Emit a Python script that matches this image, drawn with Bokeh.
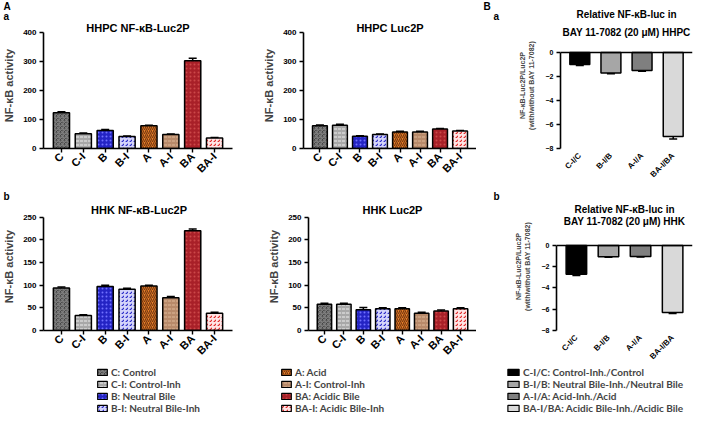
import math
from bokeh.plotting import figure
from bokeh.models import (FactorRange, Range1d, FixedTicker, ColumnDataSource, Whisker,
                          TeeHead, Label, Legend, LegendItem, Span)
from bokeh.layouts import row, column
from bokeh.embed import file_html
from bokeh.resources import INLINE

# ---------------- data ----------------
cats = ["C", "C-I", "B", "B-I", "A", "A-I", "BA", "BA-I"]
cat_names = ["C: Control", "C-I: Control-Inh", "B: Neutral Bile", "B-I: Neutral Bile-Inh",
             "A: Acid", "A-I: Control-Inh", "BA: Acidic Bile", "BA-I: Acidic Bile-Inh"]

hhpc_nfkb = [123, 51, 62, 41, 78, 48, 302, 36]
hhpc_nfkb_err = [3, 2, 3, 2, 2, 2, 8, 2]
hhpc_luc = [78, 80, 42, 48, 57, 57, 67, 60]
hhpc_luc_err = [3, 3, 2, 2, 2, 2, 2, 2]
hhk_nfkb = [94, 33, 97, 91, 98, 72, 220, 38]
hhk_nfkb_err = [2, 2, 3, 2, 2, 3, 4, 2]
hhk_luc = [58, 58, 46, 48, 48, 38, 43, 48]
hhk_luc_err = [2, 2, 5, 2, 2, 2, 2, 2]

ratio_cats = ["C-I/C", "B-I/B", "A-I/A", "BA-I/BA"]
ratio_names = ["C-I/C: Control-Inh./Control", "B-I/B: Neutral Bile-Inh./Neutral Bile",
               "A-I/A: Acid-Inh./Acid", "BA-I/BA: Acidic Bile-Inh./Acidic Bile"]
hhpc_ratio = [-1.0, -1.7, -1.5, -7.0]
hhpc_ratio_err = [0.08, 0.08, 0.06, 0.2]
hhk_ratio = [-2.7, -1.05, -1.03, -6.3]
hhk_ratio_err = [0.12, 0.06, 0.06, 0.1]

# ---------------- styles ----------------
fills = ["#2a2a2a", "#a8a8a8", "#2424c4", "#d4d4fa", "#e8802a", "#b88a6a", "#a82028", "#ffe4e4"]
hatches = ["criss_cross", "horizontal_dash", "dot", "right_diagonal_dash",
           "right_diagonal_line", "horizontal_dash", "dot", "right_diagonal_dash"]
hatch_cols = ["#808080", "#e2e2e2", "#7070ff", "#2a2ac8", "#7a3a10", "#d8b090", "#cc4848", "#e02828"]
ratio_fills = ["#000000", "#a6a6a6", "#7f7f7f", "#d9d9d9"]

AX_FONT = "Liberation Sans"
LEG_FONT = "Lato"
W = 693


def base_fig(**kw):
    return figure(output_backend="svg", toolbar_location=None, **kw)


def txt(t, x, y, size, align="left", xu="data", yu="data"):
    return Label(x=x, y=y, x_units=xu, y_units=yu, text=t, text_font=AX_FONT,
                 text_font_style="bold", text_font_size=size, text_align=align,
                 text_baseline="middle", text_color="black")


def style_axes(p, yticks, tick_fs="8px", xlab_fs="11px"):
    p.xgrid.visible = False
    p.ygrid.visible = False
    p.outline_line_color = None
    for ax in (p.xaxis[0], p.yaxis[0]):
        ax.axis_line_width = 1.6
        ax.major_tick_line_width = 1.4
        ax.major_tick_out = 4
        ax.major_tick_in = 0
        ax.minor_tick_line_color = None
        ax.major_label_text_font = AX_FONT
        ax.major_label_text_font_style = "bold"
        ax.major_label_text_color = "black"
    p.yaxis.ticker = FixedTicker(ticks=yticks)
    p.yaxis.bounds = (min(yticks), max(yticks))
    p.yaxis.major_label_text_font_size = tick_fs
    p.yaxis.major_label_standoff = 3
    p.xaxis.major_label_text_font_size = xlab_fs
    p.xaxis.major_label_orientation = math.pi / 4
    p.xaxis.major_label_standoff = 2


def strip(height, texts):
    """A blank full-width band that carries panel letters / title lines as text."""
    p = base_fig(width=W, height=height, x_range=Range1d(0, W), y_range=Range1d(0, height),
                 min_border=0, x_axis_location=None, y_axis_location=None)
    p.outline_line_color = None
    p.grid.visible = False
    for (t, x, y, size, align) in texts:
        p.add_layout(txt(t, x, height - y, size, align))
    return p


def panel_a(title, vals, errs, ytop, yticks, width, height, bl, br, bb, tick_px, title_px):
    fh = height - bb
    fw = width - bl - br
    yend = ytop + tick_px * ytop / (fh - tick_px)
    p = base_fig(x_range=FactorRange(factors=cats, range_padding=0.08),
                 y_range=Range1d(0, yend), width=width, height=height,
                 min_border_left=bl, min_border_right=br, min_border_top=0,
                 min_border_bottom=bb)
    src = ColumnDataSource(dict(cat=cats, val=vals, up=[v + e for v, e in zip(vals, errs)],
                                fill=fills, hp=hatches, hc=hatch_cols))
    p.vbar(x="cat", top="val", width=0.74, source=src, fill_color="fill",
           hatch_pattern="hp", hatch_color="hc", hatch_scale=4, hatch_weight=1.2,
           line_color="black", line_width=1.5)
    p.add_layout(Whisker(source=src, base="cat", lower="val", upper="up", dimension="height",
                         line_width=1.5, line_color="black",
                         upper_head=TeeHead(size=8, line_width=1.5, line_color="black"),
                         lower_head=None))
    style_axes(p, yticks)
    p.yaxis.axis_label = "NF-κB activity"
    p.yaxis.axis_label_text_font = AX_FONT
    p.yaxis.axis_label_text_font_style = "bold"
    p.yaxis.axis_label_text_font_size = "11px"
    p.yaxis.axis_label_standoff = 5
    p.add_layout(txt(title, fw / 2, fh - title_px, "11px", "center", "screen", "screen"))
    return p


def panel_b(vals, errs, width, height, bl, br, bb, zero_px, lines):
    fh = height - bb
    fw = width - bl - br
    yend = zero_px * 8.0 / (fh - zero_px)
    p = base_fig(x_range=FactorRange(factors=ratio_cats, range_padding=0.06),
                 y_range=Range1d(-8, yend), width=width, height=height,
                 min_border_left=bl, min_border_right=br, min_border_top=0,
                 min_border_bottom=bb)
    src = ColumnDataSource(dict(cat=ratio_cats, val=vals, lo=[v - e for v, e in zip(vals, errs)],
                                fill=ratio_fills))
    p.vbar(x="cat", top=0, bottom="val", width=0.64, source=src, fill_color="fill",
           line_color="black", line_width=1.5)
    p.add_layout(Whisker(source=src, base="cat", lower="lo", upper="val", dimension="height",
                         line_width=1.5, line_color="black",
                         lower_head=TeeHead(size=8, line_width=1.5, line_color="black"),
                         upper_head=None))
    style_axes(p, [-8, -6, -4, -2, 0], tick_fs="7px", xlab_fs="8px")
    p.xaxis.axis_line_color = None
    p.xaxis.major_tick_line_color = None
    p.add_layout(Span(location=0, dimension="width", line_color="black", line_width=1.6))
    p.yaxis.axis_label = "NF-κB-Luc2P/Luc2P\n(with/without BAY 11-7082)"
    p.yaxis.axis_label_text_font = AX_FONT
    p.yaxis.axis_label_text_font_style = "bold"
    p.yaxis.axis_label_text_font_size = "7px"
    p.yaxis.axis_label_standoff = 8
    for (t, ypx) in lines:
        p.add_layout(txt(t, fw / 2, fh - ypx, "10px", "center", "screen", "screen"))
    return p


def legend_fig(height, groups):
    """groups: list of (x, names, fills, hatches, hatch_cols, font_size, glyph_w)"""
    p = base_fig(width=W, height=height, x_range=Range1d(0, 1), y_range=Range1d(0, 1),
                 min_border=0, x_axis_location=None, y_axis_location=None)
    p.outline_line_color = None
    p.grid.visible = False
    nan = float("nan")
    for (x, names, fl, hp, hc, fs, gw) in groups:
        items = []
        for i, nm in enumerate(names):
            kw = dict(hatch_pattern=hp[i], hatch_color=hc[i], hatch_scale=4,
                      hatch_weight=1.2) if hp else {}
            # legend-only renderer: holds the swatch style, draws no visible mark
            r = p.vbar(x=[nan], top=[nan], width=0.5, fill_color=fl[i],
                       line_color="black", line_width=1.2, **kw)
            items.append(LegendItem(label=nm, renderers=[r], index=0))
        leg = Legend(items=items, location=(x, 1), orientation="vertical",
                     label_text_font=LEG_FONT, label_text_font_style="bold",
                     label_text_font_size=fs, label_height=11, glyph_height=8,
                     glyph_width=gw, label_standoff=3, spacing=0, padding=0, margin=0,
                     border_line_color=None, background_fill_alpha=0)
        p.add_layout(leg, "center")
    return p


# ---------------- bands ----------------
RXa = 476 + 84 + (217 - 84 - 1) / 2
band1 = strip(22, [("A", 3, 6, "10px", "left"), ("a", 3, 16, "10px", "left"),
                   ("B", 483, 6, "10px", "left"), ("a", 493, 16, "10px", "left"),
                   ("Relative NF-κB-luc in", RXa, 14, "10px", "center")])

fAa = panel_a("HHPC NF-κB-Luc2P", hhpc_nfkb, hhpc_nfkb_err, 400, [0, 100, 200, 300, 400],
              238, 168, 43, 6, 37, 10, 10)
fAb = panel_a("HHPC Luc2P", hhpc_luc, hhpc_luc_err, 400, [0, 100, 200, 300, 400],
              238, 168, 65, 0, 37, 10, 10)
fRa = panel_b(hhpc_ratio, hhpc_ratio_err, 217, 168, 84, 1, 42, 30,
              [("BAY 11-7082 (20 μM) HHPC", 10)])

band3 = strip(12, [("b", 3, 6, "10px", "left"), ("b", 493, 6, "10px", "left")])

fBa = panel_a("HHK NF-κB-Luc2P", hhk_nfkb, hhk_nfkb_err, 250, [0, 50, 100, 150, 200, 250],
              238, 165, 41, 6, 34, 15, 10)
fBb = panel_a("HHK Luc2P", hhk_luc, hhk_luc_err, 250, [0, 50, 100, 150, 200, 250],
              238, 165, 70, 0, 34, 15, 10)
fRb = panel_b(hhk_ratio, hhk_ratio_err, 217, 165, 80, 1, 34, 44,
              [("Relative NF-κB-luc in", 10), ("BAY 11-7082 (20 μM) HHK", 22)])

band5 = legend_fig(48, [
    (96, cat_names[:4], fills[:4], hatches[:4], hatch_cols[:4], "10px", 12),
    (280, cat_names[4:], fills[4:], hatches[4:], hatch_cols[4:], "10px", 12),
    (506, ratio_names, ratio_fills, None, None, "10px", 14),
])

layout = column(band1, row(fAa, fAb, fRa), band3, row(fBa, fBb, fRb), band5)

open("out.html", "w").write(file_html(layout, INLINE))
